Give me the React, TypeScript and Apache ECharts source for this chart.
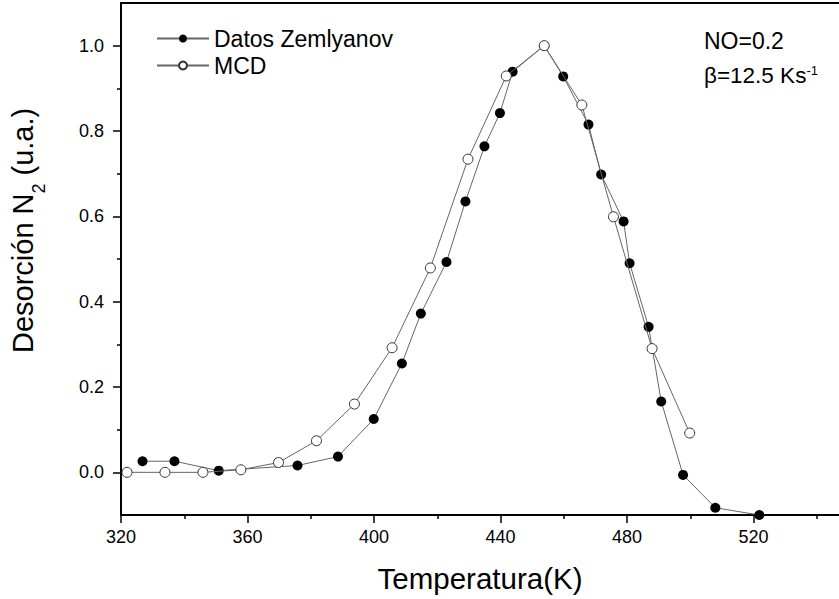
import { useEffect, useRef } from "react";
import * as echarts from "echarts";

const FONT = "'Liberation Sans', Arial, sans-serif";

// Datos Zemlyanov (filled circles)
const zemT = [326.8, 336.9, 350.9, 375.8, 388.6, 399.9, 408.8, 414.8, 422.9, 428.9, 434.9, 439.8, 443.8, 453.8, 459.8, 467.8, 471.8, 478.9, 480.8, 486.8, 490.8, 497.7, 507.9, 521.8];
const zemV = [0.026, 0.026, 0.004, 0.016, 0.037, 0.125, 0.255, 0.372, 0.493, 0.635, 0.764, 0.842, 0.939, 1.0, 0.928, 0.815, 0.698, 0.588, 0.49, 0.341, 0.166, -0.006, -0.083, -0.1];

// MCD (open circles)
const mcdT = [321.9, 333.9, 345.9, 357.9, 369.8, 381.8, 393.8, 405.7, 417.8, 429.7, 441.8, 453.8, 465.7, 475.7, 487.9, 499.8];
const mcdV = [0, 0, 0, 0.006, 0.023, 0.074, 0.16, 0.292, 0.479, 0.734, 0.929, 1.0, 0.861, 0.599, 0.29, 0.092];

const xMajorTicks = [320, 360, 400, 440, 480, 520];
const xMinorTicks = [340, 380, 420, 460, 500, 540];
const yMajorTicks = [0, 0.2, 0.4, 0.6, 0.8, 1.0];
const yMinorTicks = [0.1, 0.3, 0.5, 0.7, 0.9];

const X_MIN = 320;
const X_MAX = 547;
const Y_MIN = -0.1;
const Y_MAX = 1.1;

export default function App() {
  const ref = useRef<HTMLDivElement>(null);

  useEffect(() => {
    if (!ref.current) return;
    const chart = echarts.init(ref.current, undefined, { renderer: "svg" });

    const axisLineStyle = { color: "#000", width: 2 };
    const tickStyle = { color: "#000", width: 1.5 };
    const labelStyle = { fontSize: 18, color: "#000", fontFamily: FONT };

    const option: any = {
      animation: false,
      backgroundColor: "#fff",
      grid: { left: 121, right: 0, top: 3, bottom: 84 },
      legend: {
        show: true,
        orient: "vertical",
        left: 151,
        top: 22,
        itemWidth: 52,
        itemHeight: 10,
        itemGap: 4,
        textStyle: { fontSize: 23, color: "#000", fontFamily: FONT, padding: [0, 0, 0, 0] },
        data: ["Datos Zemlyanov", "MCD"],
      },
      xAxis: [
        {
          type: "value",
          min: X_MIN,
          max: X_MAX,
          position: "bottom",
          axisLine: { show: true, onZero: false, lineStyle: axisLineStyle },
          axisTick: { show: true, length: 8, lineStyle: tickStyle, customValues: xMajorTicks },
          axisLabel: { show: true, customValues: xMajorTicks, margin: 13, ...labelStyle },
          splitLine: { show: false },
          name: "Temperatura(K)",
          nameLocation: "middle",
          nameGap: 48,
          nameTextStyle: { fontSize: 29.5, color: "#000", fontFamily: FONT },
        },
        {
          type: "value",
          min: X_MIN,
          max: X_MAX,
          position: "bottom",
          axisLine: { show: false, onZero: false },
          axisTick: { show: true, length: 4, lineStyle: tickStyle, customValues: xMinorTicks },
          axisLabel: { show: false },
          splitLine: { show: false },
        },
        {
          type: "value",
          min: X_MIN,
          max: X_MAX,
          position: "top",
          axisLine: { show: true, onZero: false, lineStyle: axisLineStyle },
          axisTick: { show: false },
          axisLabel: { show: false },
          splitLine: { show: false },
        },
      ],
      yAxis: [
        {
          type: "value",
          min: Y_MIN,
          max: Y_MAX,
          position: "left",
          axisLine: { show: true, onZero: false, lineStyle: axisLineStyle },
          axisTick: { show: true, length: 8, lineStyle: tickStyle, customValues: yMajorTicks },
          axisLabel: {
            show: true,
            customValues: yMajorTicks,
            margin: 17,
            formatter: (v: number) => v.toFixed(1),
            ...labelStyle,
          },
          splitLine: { show: false },
        },
        {
          type: "value",
          min: Y_MIN,
          max: Y_MAX,
          position: "left",
          axisLine: { show: false, onZero: false },
          axisTick: { show: true, length: 4, lineStyle: tickStyle, customValues: yMinorTicks },
          axisLabel: { show: false },
          splitLine: { show: false },
        },
      ],
      series: [
        {
          type: "line",
          name: "Datos Zemlyanov",
          xAxisIndex: 0,
          yAxisIndex: 0,
          data: zemT.map((t, i) => [t, zemV[i]]),
          symbol: "circle",
          symbolSize: 10,
          lineStyle: { color: "#666", width: 1 },
          itemStyle: { color: "#000", borderColor: "#000", borderWidth: 0 },
          z: 2,
        },
        {
          type: "line",
          name: "MCD",
          xAxisIndex: 0,
          yAxisIndex: 0,
          data: mcdT.map((t, i) => [t, mcdV[i]]),
          symbol: "circle",
          symbolSize: 10,
          lineStyle: { color: "#666", width: 1 },
          itemStyle: { color: "#fff", borderColor: "#333", borderWidth: 1 },
          z: 3,
        },
      ],
      graphic: [
        {
          type: "text",
          x: 23,
          y: 353,
          rotation: Math.PI / 2,
          style: { text: "Desorción N", fontSize: 29, fontFamily: FONT, fill: "#000", textAlign: "left", textVerticalAlign: "middle" },
        },
        {
          type: "text",
          x: 39,
          y: 193.5,
          rotation: Math.PI / 2,
          style: { text: "2", fontSize: 18, fontFamily: FONT, fill: "#000", textAlign: "left", textVerticalAlign: "middle" },
        },
        {
          type: "text",
          x: 23,
          y: 175.5,
          rotation: Math.PI / 2,
          style: { text: "(u.a.)", fontSize: 29, fontFamily: FONT, fill: "#000", textAlign: "left", textVerticalAlign: "middle" },
        },
        {
          type: "text",
          x: 704,
          y: 41,
          style: { text: "NO=0.2", fontSize: 23, fontFamily: FONT, fill: "#000", textAlign: "left", textVerticalAlign: "middle" },
        },
        {
          type: "text",
          x: 704,
          y: 75,
          style: {
            text: "β=12.5 Ks{sup|-1}",
            fontSize: 22.5,
            fontFamily: FONT,
            fill: "#000",
            textAlign: "left",
            textVerticalAlign: "middle",
            rich: {
              sup: { fontSize: 13, fontFamily: FONT, fill: "#000", verticalAlign: "top", lineHeight: 8 },
            },
          },
        },
      ],
    };

    chart.setOption(option);
    return () => chart.dispose();
  }, []);

  return <div ref={ref} style={{ position: "absolute", left: 0, top: 0, width: 839, height: 599 }} />;
}
